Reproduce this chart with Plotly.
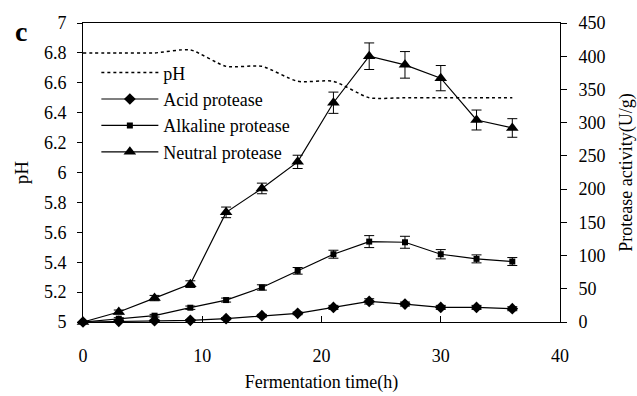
import plotly.graph_objects as go

time_h = [0, 3, 6, 9, 12, 15, 18, 21, 24, 27, 30, 33, 36]
ph = [6.80, 6.80, 6.80, 6.82, 6.71, 6.71, 6.61, 6.61, 6.50, 6.50, 6.50, 6.50, 6.50]
acid = [0, 1, 2, 2.5, 5, 9.5, 13, 22, 31, 27, 22, 22, 20]
acid_err = [1, 1, 1, 1, 1.5, 2, 2, 3, 4, 3, 3, 3, 3]
alkaline = [0, 5, 9.5, 21.5, 33, 52, 77, 102, 121, 120, 102, 95, 91]
alkaline_err = [1, 1.5, 2, 2.5, 3, 4, 5, 6, 9, 9, 7, 6, 6]
neutral = [0, 15, 36, 57, 165, 201, 241, 330, 400, 387, 367, 304, 292]
neutral_err = [1, 3, 4, 5, 8, 8, 10, 16, 20, 20, 19, 15, 14]

FONT = "Liberation Serif"


def f(size):
    return dict(family=FONT, size=size, color="black")


fig = go.Figure()

fig.add_trace(go.Scatter(x=time_h, y=ph, name="pH", mode="lines",
                         line=dict(color="black", width=1.5, dash="3px,3px", shape="spline", smoothing=0.6),
                         yaxis="y"))


def prot(name, vals, err, symbol, size):
    fig.add_trace(go.Scatter(x=time_h, y=vals, name=name, mode="lines+markers",
                             line=dict(color="black", width=1.2),
                             marker=dict(symbol=symbol, size=size, color="black"),
                             error_y=dict(type="data", array=err, visible=True, color="black", thickness=1, width=5),
                             cliponaxis=False, yaxis="y2"))


prot("Acid protease", acid, acid_err, "diamond", 9)
prot("Alkaline protease", alkaline, alkaline_err, "square", 6)
prot("Neutral protease", neutral, neutral_err, "triangle-up", 11)

fig.update_layout(
    width=637, height=396,
    margin=dict(l=83, r=77, t=23, b=74),
    paper_bgcolor="white", plot_bgcolor="white",
    font=f(18),
    showlegend=True,
    legend=dict(x=0.028, y=0.895, xanchor="left", yanchor="top", bgcolor="rgba(0,0,0,0)",
                font=f(18), itemwidth=57, tracegroupgap=0),
    xaxis=dict(range=[0, 40], dtick=10, tick0=0, showline=True, linecolor="black", linewidth=1,
               mirror=True, ticks="inside", ticklen=6, tickcolor="black", showgrid=False, zeroline=False,
               tickfont=f(18), automargin=False, ticklabelstandoff=17,
               title=dict(text="Fermentation time(h)", standoff=10, font=f(18))),
    yaxis=dict(range=[5, 7], dtick=0.2, tick0=5, showline=True, linecolor="black", linewidth=1,
               ticks="outside", ticklen=5, tickcolor="black", showgrid=False, zeroline=False,
               tickfont=f(18), automargin=False, ticklabelstandoff=7,
               title=dict(text="pH", standoff=10, font=f(19))),
    yaxis2=dict(range=[0, 450], dtick=50, tick0=0, overlaying="y", side="right", showline=True,
                linecolor="black", linewidth=1, ticks="outside", ticklen=6, tickcolor="black",
                showgrid=False, zeroline=False, tickfont=f(18), automargin=False, ticklabelstandoff=8,
                title=dict(text="Protease activity(U/g)", standoff=20, font=f(18))),
)

fig.add_annotation(text="<b>c</b>", xref="paper", yref="paper", x=-0.147, y=0.973,
                   xanchor="left", yanchor="middle", showarrow=False,
                   font=f(28))

fig.write_html("out.html")
